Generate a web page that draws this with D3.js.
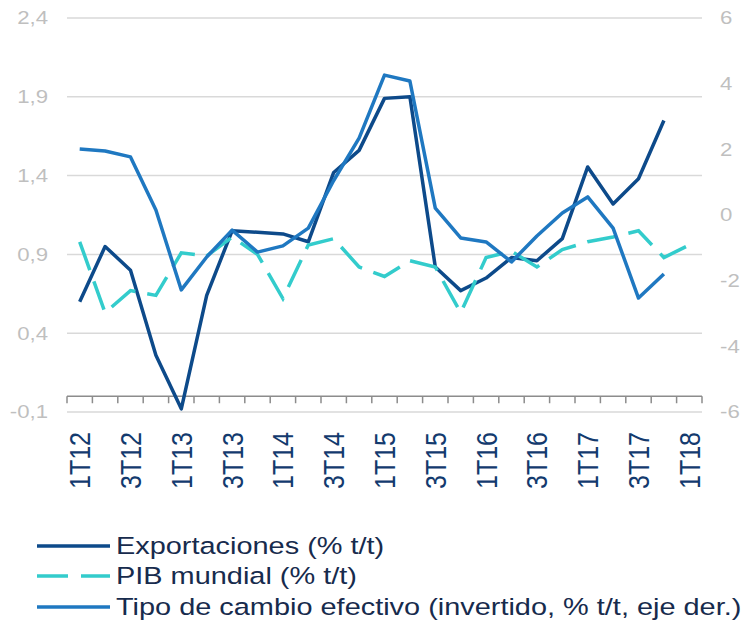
<!DOCTYPE html>
<html>
<head>
<meta charset="utf-8">
<script src="https://cdn.jsdelivr.net/npm/d3@7"></script>
<style>
  body { margin: 0; background: #fff; }
  svg { display: block; font-family: "Liberation Sans", Arial, sans-serif; }
</style>
</head>
<body>
<div id="chart"></div>
<script>
// quarters 1T12 .. 1T18
const quarters = ["1T12","2T12","3T12","4T12","1T13","2T13","3T13","4T13","1T14","2T14","3T14","4T14",
  "1T15","2T15","3T15","4T15","1T16","2T16","3T16","4T16","1T17","2T17","3T17","4T17","1T18"];
const leftTicks = [-0.1, 0.4, 0.9, 1.4, 1.9, 2.4];
const rightTicks = [-6, -4, -2, 0, 2, 4, 6];

const exportaciones = [0.60,0.95,0.80,0.26,-0.08,0.64,1.05,1.04,1.03,0.98,1.42,1.56,
  1.89,1.90,0.82,0.67,0.75,0.88,0.86,1.00,1.455,1.22,1.38,1.75,null];
const pibMundial = [0.98,0.53,0.67,0.64,0.91,0.89,1.01,0.90,0.62,0.96,1.00,0.82,
  0.76,0.86,0.82,0.53,0.88,0.92,0.82,0.93,0.98,1.01,1.05,0.88,0.96];
const tipoCambio = [2.01,1.95,1.77,0.15,-2.28,-1.28,-0.46,-1.13,-0.94,-0.40,1.05,2.34,
  4.26,4.08,0.21,-0.70,-0.82,-1.43,-0.64,0.06,0.55,-0.40,-2.53,-1.80,null];

const legendNames = ["Exportaciones (% t/t)", "PIB mundial (% t/t)", "Tipo de cambio efectivo (invertido, % t/t, eje der.)"];

const width = 744, height = 621;
const sx = 1.2; // glyphs in the reference are stretched sideways
const navy = "#0d4a8a", teal = "#33cccc", blue = "#1f78c1";

const svg = d3.select("#chart").append("svg")
  .attr("width", width)
  .attr("height", height);

const x = d3.scaleBand().domain(quarters).range([67, 702]).padding(0);
const yL = d3.scaleLinear().domain([-0.1, 2.4]).range([412, 18]);
const yR = d3.scaleLinear().domain([-6, 6]).range([412, 18]);
const cx = d => x(d) + x.bandwidth() / 2;
const fmt = v => String(v).replace(".", ",");

// gridlines
svg.append("g").selectAll("line")
  .data(leftTicks).enter().append("line")
  .attr("x1", 67).attr("x2", 702)
  .attr("y1", d => yL(d)).attr("y2", d => yL(d))
  .attr("stroke", "#d9d9d9").attr("stroke-width", 1.5);

// left axis labels
svg.append("g").selectAll("text")
  .data(leftTicks).enter().append("text")
  .attr("transform", d => "translate(48," + yL(d) + ") scale(" + sx + ",1)")
  .attr("text-anchor", "end").attr("dy", "0.35em")
  .attr("font-size", 18.5).attr("fill", "#bfbfbf")
  .text(fmt);

// right axis labels
svg.append("g").selectAll("text")
  .data(rightTicks).enter().append("text")
  .attr("transform", d => "translate(720," + yR(d) + ") scale(" + sx + ",1)")
  .attr("text-anchor", "start").attr("dy", "0.35em")
  .attr("font-size", 18.5).attr("fill", "#bfbfbf")
  .text(fmt);

// category axis crossing at 0
const y0 = yL(0);
const axis = svg.append("g");
axis.append("line")
  .attr("x1", 67).attr("x2", 702).attr("y1", y0).attr("y2", y0)
  .attr("stroke", "#8c8c8c").attr("stroke-width", 1.5);
axis.selectAll("line.tk")
  .data(quarters.concat(["end"])).enter().append("line")
  .attr("class", "tk")
  .attr("x1", (d, i) => 67 + i * x.bandwidth())
  .attr("x2", (d, i) => 67 + i * x.bandwidth())
  .attr("y1", y0).attr("y2", y0 + 7)
  .attr("stroke", "#8c8c8c").attr("stroke-width", 1.5);

// rotated quarter labels, every other one
svg.append("g").selectAll("text")
  .data(quarters.filter((d, i) => i % 2 === 0)).enter().append("text")
  .attr("transform", d => "translate(" + cx(d) + ",432) scale(" + sx + ",1) rotate(-90)")
  .attr("text-anchor", "end").attr("dy", "0.35em")
  .attr("font-size", 25).attr("fill", "#133a6e")
  .text(d => d);

// the lines
const lineL = d3.line()
  .defined(d => d.v !== null)
  .x(d => cx(d.q)).y(d => yL(d.v));
const lineR = d3.line()
  .defined(d => d.v !== null)
  .x(d => cx(d.q)).y(d => yR(d.v));
const rows = arr => arr.map((v, i) => ({ q: quarters[i], v: v }));

svg.append("path").datum(rows(exportaciones))
  .attr("d", lineL).attr("fill", "none")
  .attr("stroke", navy).attr("stroke-width", 3.5).attr("stroke-linejoin", "round");
svg.append("path").datum(rows(pibMundial))
  .attr("d", lineL).attr("fill", "none")
  .attr("stroke", teal).attr("stroke-width", 3.5).attr("stroke-dasharray", "30,12");
svg.append("path").datum(rows(tipoCambio))
  .attr("d", lineR).attr("fill", "none")
  .attr("stroke", blue).attr("stroke-width", 3.5).attr("stroke-linejoin", "round");

// legend
const legend = svg.append("g");
const legendY = [546, 576, 607];
const legendColors = [navy, teal, blue];
legendNames.forEach((name, i) => {
  legend.append("line")
    .attr("x1", 37).attr("x2", 110).attr("y1", legendY[i]).attr("y2", legendY[i])
    .attr("stroke", legendColors[i]).attr("stroke-width", 3.5)
    .attr("stroke-dasharray", i === 1 ? "31,13" : null);
  legend.append("text")
    .attr("transform", "translate(116," + legendY[i] + ") scale(1.22,1)")
    .attr("dy", "0.35em").attr("font-size", 23.7).attr("fill", "#172b4d")
    .text(name);
});
</script>
</body>
</html>
